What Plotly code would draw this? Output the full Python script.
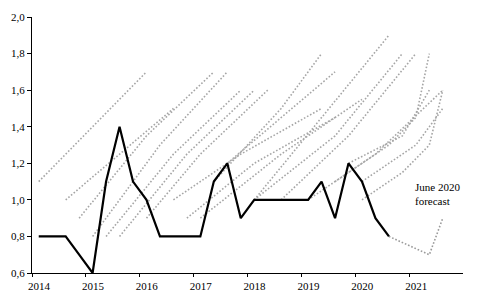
import plotly.graph_objects as go

# Actual (quarterly, mid-quarter positions)
actual_x = [2014.125 + 0.25 * i for i in range(27)]
actual_y = [0.8, 0.8, 0.8, 0.7, 0.6, 1.1, 1.4, 1.1, 1.0, 0.8, 0.8, 0.8,
            0.8, 1.1, 1.2, 0.9, 1.0, 1.0, 1.0, 1.0, 1.0, 1.1, 0.9, 1.2,
            1.1, 0.9, 0.8]

# Past forecasts
forecast_x = [
    [2014.125, 2016.125],
    [2014.625, 2016.625],
    [2014.875, 2016.125, 2017.375],
    [2015.125, 2016.375, 2017.625],
    [2015.375, 2016.625, 2017.875],
    [2015.625, 2016.875, 2018.125],
    [2016.125, 2017.125, 2018.375],
    [2016.625, 2017.875, 2019.375],
    [2016.875, 2018.125, 2019.625],
    [2017.125, 2018.625, 2020.125],
    [2017.375, 2018.625, 2019.375],
    [2017.625, 2018.625, 2019.625],
    [2018.125, 2019.375, 2020.625],
    [2018.125, 2019.625, 2020.875],
    [2018.625, 2019.875, 2021.125],
    [2019.125, 2020.375, 2021.625],
    [2019.625, 2020.625, 2021.125, 2021.375],
    [2019.875, 2020.875, 2021.375],
    [2020.125, 2020.875, 2021.375, 2021.625],
    [2020.125, 2020.625, 2021.125, 2021.625],
]
forecast_y = [
    [1.1, 1.7],
    [1.0, 1.5],
    [0.9, 1.35, 1.7],
    [0.8, 1.3, 1.7],
    [0.8, 1.25, 1.6],
    [0.8, 1.25, 1.6],
    [0.9, 1.25, 1.6],
    [1.0, 1.25, 1.5],
    [0.9, 1.2, 1.45],
    [0.9, 1.25, 1.55],
    [1.1, 1.5, 1.8],
    [1.2, 1.45, 1.7],
    [1.0, 1.45, 1.9],
    [1.0, 1.35, 1.8],
    [1.0, 1.35, 1.8],
    [1.0, 1.25, 1.6],
    [1.1, 1.3, 1.45, 1.8],
    [1.2, 1.35, 1.6],
    [1.0, 1.15, 1.3, 1.6],
    [1.1, 1.2, 1.3, 1.5],
]

june_x = [2020.625, 2021.375, 2021.625]
june_y = [0.8, 0.7, 0.9]

xtick_vals = [2014, 2015, 2016, 2017, 2018, 2019, 2020, 2021]
ytick_vals = [0.6, 0.8, 1.0, 1.2, 1.4, 1.6, 1.8, 2.0]
ytick_text = ["0,6", "0,8", "1,0", "1,2", "1,4", "1,6", "1,8", "2,0"]

DOT = "1.6px,1.9px"
fig = go.Figure()
for fx, fy in zip(forecast_x, forecast_y):
    fig.add_trace(go.Scatter(x=fx, y=fy, mode="lines",
                             line=dict(color="#a6a6a6", width=1.6, dash=DOT),
                             hoverinfo="skip"))
fig.add_trace(go.Scatter(x=june_x, y=june_y, mode="lines",
                         line=dict(color="#9a9a9a", width=1.6, dash=DOT)))
fig.add_trace(go.Scatter(x=actual_x, y=actual_y, mode="lines",
                         line=dict(color="black", width=2.2)))

font_family = "Liberation Serif, Times New Roman, DejaVu Serif, serif"
fig.add_annotation(x=2021.07, y=1.03, xref="x", yref="y",
                   text="June 2020<br>forecast", showarrow=False,
                   xanchor="left", align="left",
                   font=dict(family=font_family, size=11, color="black"))

fig.update_layout(
    width=477, height=303,
    margin=dict(l=28, r=14, t=11, b=23),
    paper_bgcolor="white", plot_bgcolor="white",
    showlegend=False,
    font=dict(family=font_family, size=11, color="black"),
    xaxis=dict(range=[2014, 2022], tickvals=xtick_vals,
               ticktext=[str(v) for v in xtick_vals],
               ticks="outside", ticklen=3, tickcolor="black",
               showline=True, linecolor="black", linewidth=1,
               showgrid=False, zeroline=False, ticklabelshift=7,
               tickfont=dict(family=font_family, size=11)),
    yaxis=dict(range=[0.6, 2.0], tickvals=ytick_vals, ticktext=ytick_text,
               ticks="outside", ticklen=4, tickcolor="black",
               showline=True, linecolor="black", linewidth=1,
               showgrid=False, zeroline=False,
               tickfont=dict(family=font_family, size=11)),
)
fig.write_html("out.html")
